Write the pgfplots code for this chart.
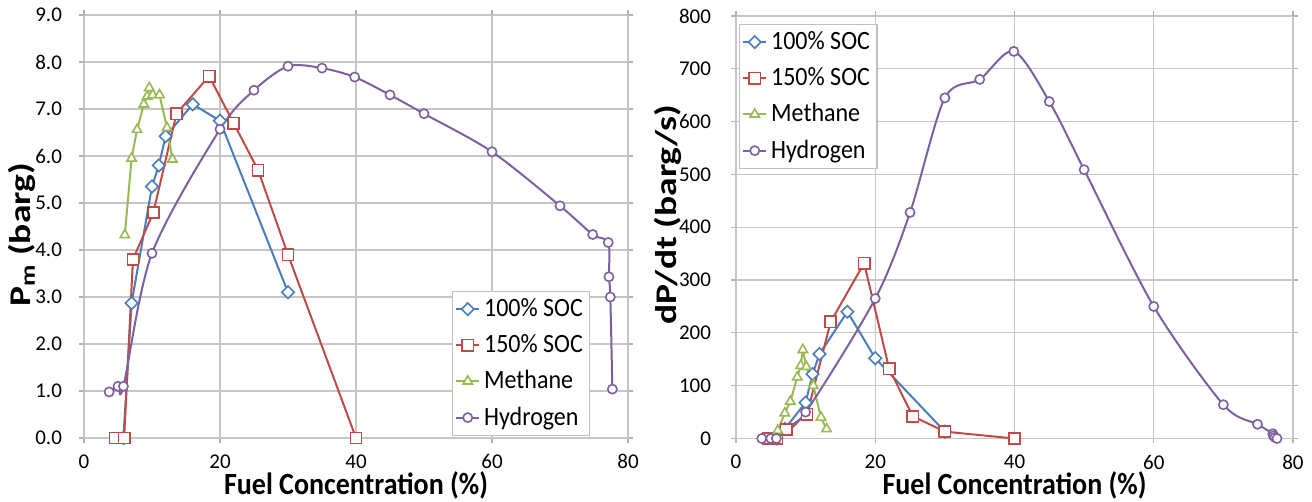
\documentclass[border=0pt]{standalone}
\usepackage{pgfplots}
\pgfplotsset{compat=1.18}
\usepackage{fontspec}
\setmainfont{Carlito}
\definecolor{cblue}{HTML}{4A7EBB}
\definecolor{cred}{HTML}{BE4B48}
\definecolor{cgreen}{HTML}{98B954}
\definecolor{cpurple}{HTML}{7D60A0}
\newcommand{\vst}[1]{\scalebox{1}[1.1]{#1}}
\newcommand{\lst}[1]{\scalebox{1.25}[1]{#1}}
\pgfplotsset{
  common/.style={
    scale only axis,
    anchor=south west,
    xmin=0, xmax=80, xtick={0,20,40,60,80},
    ymin=0,
    grid=major,
    major grid style={gray!45, line width=0.6pt},
    axis line style={gray!45},
    tick align=outside,
    major tick length=2.5pt,
    tick style={gray!60, line width=0.6pt},
    /pgf/number format/assume math mode=true,
    ticklabel style={font=\fontsize{10.5}{12}\selectfont},
    xticklabel style={yshift=-4.5pt, inner sep=1pt},
    xlabel={\vst{Fuel Concentration (\%)}},
    xlabel style={at={(axis description cs:0.5,-0.112)}, anchor=center, inner sep=0pt, font=\bfseries\fontsize{14}{16}\selectfont},
    ylabel style={font=\bfseries\fontsize{15}{17}\selectfont},
    legend cell align=left,
    legend style={font=\fontsize{12}{14}\selectfont, draw=gray!50, line width=0.6pt,
      inner sep=1.5pt, row sep=3.5pt},
    legend image code/.code={\draw[mark repeat=2,mark phase=2] plot coordinates {(0cm,0cm) (0.2cm,0cm) (0.4cm,0cm)};},
  },
  s100/.style={cblue, line width=1pt, mark=diamond*, mark size=3.1pt, mark options={fill=white, solid, line width=0.8pt, xscale=1.33}},
  s150/.style={cred, line width=1pt, mark=square*, mark size=2.8pt, mark options={fill=white, solid, line width=0.8pt}},
  sme/.style={cgreen, line width=1pt, mark=triangle*, mark size=2.7pt, mark options={fill=white, solid, line width=0.8pt}},
  shy/.style={cpurple, line width=1pt, smooth, mark=*, mark size=2.3pt, mark options={fill=white, solid, line width=0.8pt}},
}
\begin{document}
\begin{tikzpicture}
\useasboundingbox (0,0) rectangle (656pt,251pt);
\begin{axis}[common,
  at={(42pt,32pt)}, width=272pt, height=211.5pt,
  ymax=9, ytick={0,1,...,9},
  yticklabel style={/pgf/number format/fixed, /pgf/number format/fixed zerofill, /pgf/number format/precision=1, xshift=-5pt},
  ylabel={\lst{P\textsubscript{m} (barg)}},
  ylabel style={at={(axis description cs:-0.114,0.48)}, anchor=center},
  legend style={at={(axis description cs:0.676,0.005)}, anchor=south west},
]
\addplot[s100] coordinates {(5.8,0) (7,2.87) (10,5.35) (11,5.8) (12,6.42) (16,7.1) (20,6.75) (30,3.1)};
\addlegendentry{\vst{100\% SOC}}
\addplot[s150] coordinates {(4.6,0) (5.9,0) (7.2,3.8) (10.2,4.8) (13.6,6.9) (18.4,7.7) (22,6.7) (25.6,5.7) (30,3.9) (40,0)};
\addlegendentry{\vst{150\% SOC}}
\addplot[sme] coordinates {(6,4.32) (7,5.95) (7.8,6.56) (8.8,7.1) (9.3,7.27) (9.6,7.45) (10.1,7.3) (11.1,7.3) (12.2,6.6) (13,5.93)};
\addlegendentry{\vst{Methane}}
\addplot[shy] coordinates {(3.7,0.98) (5,1.1) (5.8,1.1) (10,3.93) (20,6.57) (25,7.4) (30,7.91) (35,7.87) (39.8,7.68) (45,7.3) (50,6.9) (60,6.09) (70,4.94) (74.8,4.33) (77.1,4.16) (77.2,3.43) (77.4,3.0) (77.7,1.04)};
\addlegendentry{\vst{Hydrogen}}
\end{axis}
\begin{axis}[common,
  at={(368pt,31.75pt)}, width=278.5pt, height=211.25pt,
  ymax=800, ytick={0,100,...,800},
  yticklabel style={xshift=-6.5pt},
  ylabel={\lst{dP/dt (barg/s)}},
  ylabel style={at={(axis description cs:-0.122,0.53)}, anchor=center},
  legend style={at={(axis description cs:0.005,0.981)}, anchor=north west},
]
\addplot[s100] coordinates {(5.8,0) (7,18) (10,68) (11,122) (12,160) (16,240) (20,152) (30,13)};
\addlegendentry{\vst{100\% SOC}}
\addplot[s150] coordinates {(4.7,0) (5.9,0) (7.2,17) (10.2,46) (13.6,221) (18.4,332) (22,132) (25.4,42) (30,13) (40,0)};
\addlegendentry{\vst{150\% SOC}}
\addplot[sme] coordinates {(6,15) (7,48) (7.8,70) (8.8,116) (9.3,138) (9.6,168) (10.1,136) (11.1,100) (12.2,40) (13,18)};
\addlegendentry{\vst{Methane}}
\addplot[shy] coordinates {(3.7,0) (5,0) (5.8,0) (10,50) (20,265) (25,428) (30,645) (35,680) (39.9,733) (45,638) (50,509) (60,250) (70,64) (74.9,27) (77.1,9) (77.2,5) (77.4,2) (77.7,0)};
\addlegendentry{\vst{Hydrogen}}
\end{axis}
\end{tikzpicture}
\end{document}
